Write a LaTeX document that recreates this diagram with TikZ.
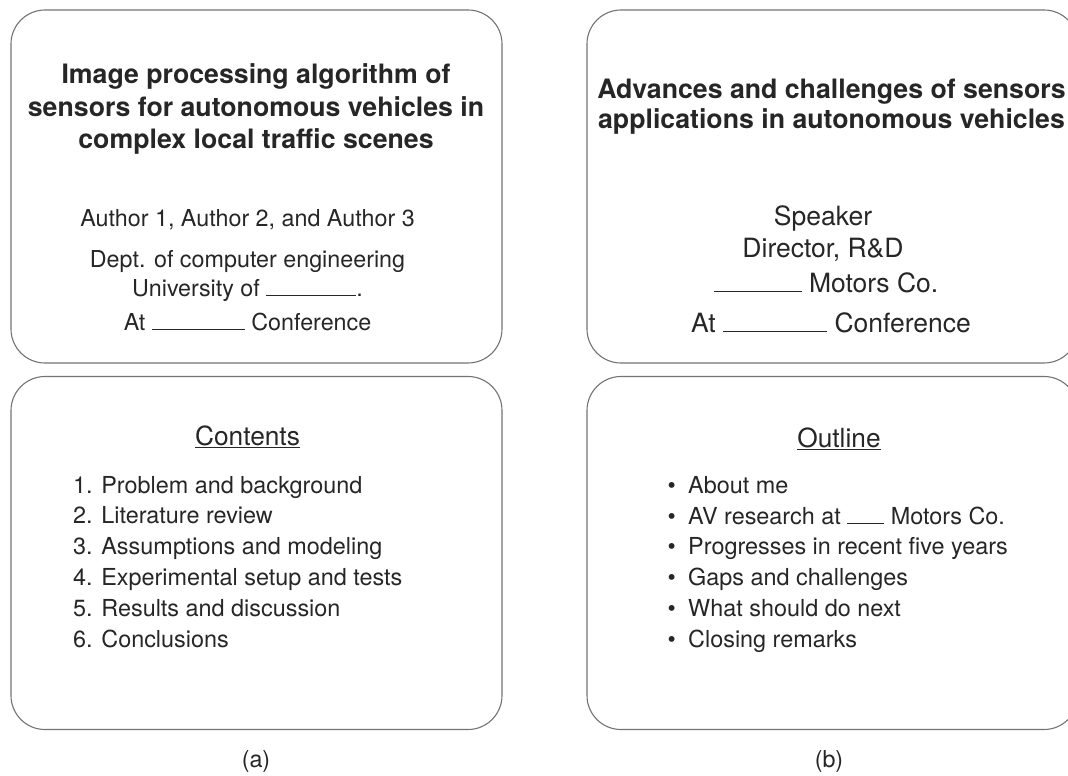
\documentclass[tikz,border=0pt]{standalone}
\usepackage{fontspec}
\setmainfont{TeX Gyre Heros}
\usetikzlibrary{positioning}

\newcommand{\blank}[1]{\rule[-0.4pt]{#1}{1pt}}

\begin{document}
\begin{tikzpicture}[x=1pt, y=-1pt, every node/.style={text=black!85},
    slide/.style={draw=black!55, line width=1.1pt, rounded corners=34pt,
      minimum width=491pt, minimum height=353pt},
    title/.style={font=\fontsize{26.7}{32}\selectfont\bfseries, anchor=base, inner sep=0pt},
    body/.style={font=\fontsize{23.3}{28}\selectfont, anchor=base, inner sep=0pt},
    bodyb/.style={font=\fontsize{26.5}{31}\selectfont, anchor=base, inner sep=0pt},
    head/.style={font=\fontsize{26.3}{31}\selectfont, anchor=base, inner sep=0pt},
    item/.style={font=\fontsize{23.4}{28}\selectfont, anchor=base west, inner sep=0pt}]
    \useasboundingbox (0,0) rectangle (1068,776);
    \clip (0,0) rectangle (1068,776);

    % Slides
    \node [slide] (slide a1) at (256.5,186.5) {};
    \node [slide] (slide b1) at (832.5,186.5) {};
    \node [slide] (slide a2) at (256.5,553)   {};
    \node [slide] (slide b2) at (832.5,553)   {};

    % Title slide (a)
    \node [title] (ta1) at (256,83)  {Image processing algorithm of};
    \node [title] (ta2) at (256,116) {sensors for autonomous vehicles in};
    \node [title] (ta3) at (256,148) {complex local traffic scenes};
    \node [body]  (auth) at (247.5,226) {Author 1, Author 2, and Author 3};
    \node [body]  (dept) at (247.5,267) {Dept. of computer engineering};
    \node [body]  (univ) at (247.5,296) {University of \blank{90pt}.};
    \node [body]  (conf a) at (247.5,330) {At \blank{93pt} Conference};

    % Title slide (b)
    \node [title] (tb1) at (831.5,98)  {Advances and challenges of sensors};
    \node [title] (tb2) at (831.5,128) {applications in autonomous vehicles};
    \node [bodyb] (spk)  at (823,225) {Speaker};
    \node [bodyb] (dir)  at (823,257) {Director, R\&D};
    \node [bodyb] (comp) at (826,292) {\blank{88pt} Motors Co.};
    \node [bodyb] (conf b) at (831,332) {At \blank{104pt} Conference};

    % Contents (a)
    \node [head] (contents) at (247.5,445) {\underline{Contents}};
    \foreach \txt [count=\i] in {Problem and background, Literature review,
        Assumptions and modeling, Experimental setup and tests,
        Results and discussion, Conclusions}
      \node [item] (ca\i) at (73,462.2+30.8*\i) {\i. \txt};

    % Outline (b)
    \node [head] (outline) at (839,447) {\underline{Outline}};
    \foreach \txt [count=\i] in {About me, AV research at \blank{37pt} Motors Co.,
        Progresses in recent five years, Gaps and challenges,
        What should do next, Closing remarks}
      {
      \node [item] (ob\i) at (688,462.2+30.9*\i) {\txt};
      \node [item, anchor=base east] (dot\i) at ([xshift=-12pt]ob\i.base west) {\textbullet};
      }

    % Captions
    \node [body] (cap a) at (256,767) {(a)};
    \node [body] (cap b) at (829,767) {(b)};
\end{tikzpicture}
\end{document}
